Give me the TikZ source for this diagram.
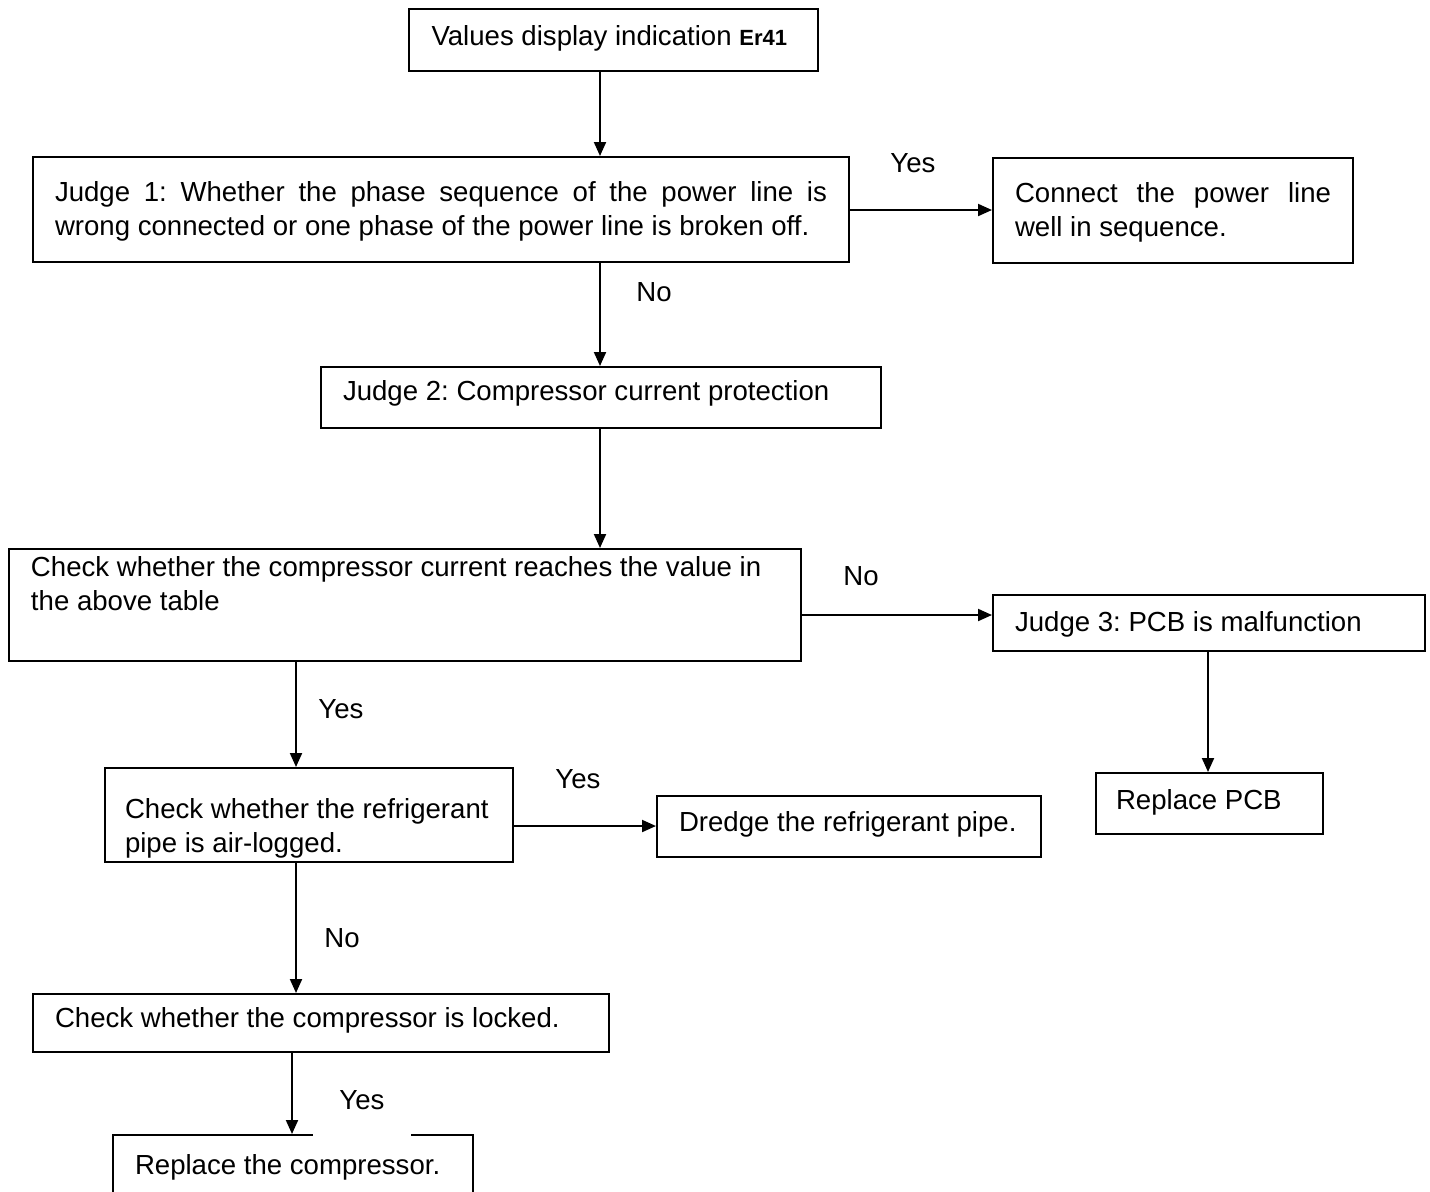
\documentclass[tikz,border=0pt]{standalone}
\usepackage{fontspec}
\setmainfont{Liberation Sans}
\usetikzlibrary{arrows.meta}
\newcommand\normsp{\spaceskip=0pt\xspaceskip=0pt\frenchspacing}
\tikzset{
  box/.style={draw, line width=1pt, anchor=north west, inner xsep=11pt, inner ysep=0pt, align=left,
    font=\fontsize{13.8pt}{17pt}\selectfont},
  arr/.style={-{Triangle[length=7pt,width=6pt]}, line width=1pt},
  lbl/.style={inner sep=0pt, font=\fontsize{13.8pt}{17pt}\selectfont},
}
\begin{document}
\begin{tikzpicture}[x=0.5pt,y=-0.5pt]
\useasboundingbox[fill=white] (0,0) rectangle (1430,1191);
% column / row helpers
\coordinate (cA) at (600,0);
\coordinate (cB) at (1208,0);
\coordinate (cC) at (296,0);
\coordinate (cD) at (292,0);
\coordinate (r1) at (0,210);
\coordinate (r2) at (0,615);
\coordinate (r3) at (0,826);
% boxes
\node[box, minimum width=204.5pt, minimum height=31pt, text width=182pt, text height=18pt, text depth=13pt] (v) at (408,8)
  {\normsp Values display indication {\fontsize{11pt}{12pt}\selectfont\bfseries Er41}};
\node[box, minimum width=408pt, minimum height=52.5pt, text width=386pt, text height=22pt, text depth=30.5pt] (j1) at (32,156)
  {\normsp\makebox[386pt][s]{Judge 1: Whether the phase sequence of the power line is}\\wrong connected or one phase of the power line is broken off.};
\node[box, minimum width=180pt, minimum height=52.5pt, text width=158pt, text height=22pt, text depth=30.5pt] (cn) at (992,157)
  {\normsp\makebox[158pt][s]{Connect the power line}\\well in sequence.};
\node[box, minimum width=280pt, minimum height=30.5pt, text width=258pt, text height=16.5pt, text depth=14pt] (j2) at (320,366)
  {\normsp Judge 2: Compressor current protection};
\node[box, minimum width=396pt, minimum height=56pt, text width=374pt, text height=13.5pt, text depth=42.5pt] (chk) at (8,548)
  {\normsp Check whether the compressor current reaches the value in\\the above table};
\node[box, minimum width=216pt, minimum height=28pt, text width=194pt, text height=18pt, text depth=10pt] (j3) at (992,594)
  {\normsp Judge 3: PCB is malfunction};
\node[box, inner xsep=10pt, minimum width=113.5pt, minimum height=30.5pt, text width=93.5pt, text height=18pt, text depth=12.5pt] (pcb) at (1095,772)
  {\normsp Replace PCB};
\node[box, inner xsep=10pt, minimum width=204pt, minimum height=47pt, text width=184pt, text height=25pt, text depth=22pt] (rf) at (104,767)
  {\normsp Check whether the refrigerant\\pipe is air-logged.};
\node[box, minimum width=192pt, minimum height=30.5pt, text width=170pt, text height=17.5pt, text depth=13pt] (dr) at (656,795)
  {\normsp Dredge the refrigerant pipe.};
\node[box, minimum width=288pt, minimum height=29pt, text width=266pt, text height=16.5pt, text depth=12.5pt] (lk) at (32,993)
  {\normsp Check whether the compressor is locked.};
\node[box, minimum width=180pt, minimum height=31pt, text width=158pt, text height=19.5pt, text depth=11.5pt] (rc) at (112,1134)
  {\normsp Replace the compressor.};
% connectors
\draw[arr] (v.south -| cA) -- (j1.north -| cA);
\draw[arr] (j1.east |- r1) -- (cn.west |- r1);
\draw[arr] (j1.south -| cA) -- (j2.north -| cA);
\draw[arr] (j2.south -| cA) -- (chk.north -| cA);
\draw[arr] (chk.east |- r2) -- (j3.west |- r2);
\draw[arr] (j3.south -| cB) -- (pcb.north -| cB);
\draw[arr] (chk.south -| cC) -- (rf.north -| cC);
\draw[arr] (rf.east |- r3) -- (dr.west |- r3);
\draw[arr] (rf.south -| cC) -- (lk.north -| cC);
\draw[arr] (lk.south -| cD) -- (rc.north -| cD);
% labels
\node[lbl] (ly1) at (913,163) {Yes};
\node[lbl] (ln1) at (654,292) {No};
\node[lbl] (ln2) at (861,576) {No};
\node[lbl] (ly2) at (341,709) {Yes};
\node[lbl] (ly3) at (578,779) {Yes};
\node[lbl] (ln3) at (342,938) {No};
\node[lbl, fill=white, anchor=north, minimum width=49pt, text height=12pt, text depth=18pt] (ly4) at (362,1085) {Yes};
\end{tikzpicture}
\end{document}
